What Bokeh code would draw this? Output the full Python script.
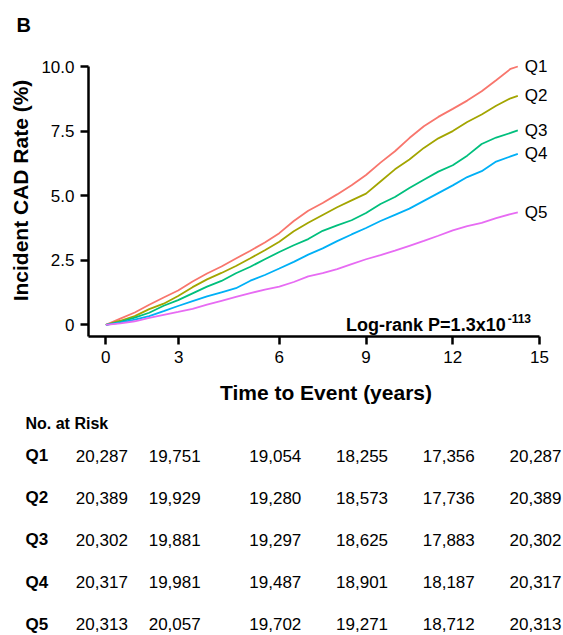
from bokeh.plotting import figure
from bokeh.models import Range1d, FixedTicker, Label, ColumnDataSource
from bokeh.layouts import column
from bokeh.embed import file_html
from bokeh.resources import INLINE
from bokeh.core.properties import value

# ---------------- data ----------------
time = [0, 0.5, 1, 1.5, 2, 2.5, 3, 3.5, 4, 4.5, 5, 5.5, 6, 6.5, 7, 7.5, 8, 8.5,
        9, 9.5, 10, 10.5, 11, 11.5, 12, 12.5, 13, 13.5, 14, 14.25]
q1 = [0, 0.24, 0.48, 0.78, 1.06, 1.33, 1.68, 1.99, 2.26, 2.57, 2.87, 3.19, 3.55, 4.02, 4.42,
      4.72, 5.05, 5.40, 5.80, 6.28, 6.72, 7.23, 7.69, 8.05, 8.36, 8.68, 9.04, 9.47, 9.91, 10.0]
q2 = [0, 0.16, 0.34, 0.61, 0.82, 1.12, 1.46, 1.76, 2.01, 2.28, 2.58, 2.89, 3.22, 3.62, 3.95,
      4.25, 4.55, 4.82, 5.08, 5.55, 6.02, 6.40, 6.85, 7.22, 7.50, 7.85, 8.14, 8.48, 8.77, 8.86]
q3 = [0, 0.12, 0.28, 0.47, 0.74, 0.96, 1.22, 1.48, 1.70, 2.00, 2.25, 2.54, 2.82, 3.08, 3.32,
      3.64, 3.85, 4.05, 4.33, 4.68, 4.95, 5.30, 5.62, 5.93, 6.18, 6.55, 7.00, 7.25, 7.43, 7.53]
q4 = [0, 0.09, 0.20, 0.34, 0.53, 0.73, 0.92, 1.10, 1.26, 1.42, 1.71, 1.93, 2.18, 2.44, 2.72,
      2.96, 3.24, 3.50, 3.75, 4.02, 4.26, 4.50, 4.80, 5.10, 5.40, 5.72, 5.95, 6.32, 6.52, 6.62]
q5 = [0, 0.06, 0.14, 0.27, 0.39, 0.50, 0.62, 0.78, 0.93, 1.08, 1.23, 1.36, 1.48, 1.66, 1.88,
      2.00, 2.16, 2.35, 2.54, 2.70, 2.87, 3.06, 3.25, 3.45, 3.66, 3.82, 3.95, 4.13, 4.29, 4.35]

groups = ["Q1", "Q2", "Q3", "Q4", "Q5"]
colors = ["#F8766D", "#A3A500", "#00BF7D", "#00B0F6", "#E76BF3"]

x_ticks = [0, 2.52, 6, 9, 12, 15]
x_tick_labels = ["0", "3", "6", "9", "12", "15"]
y_ticks = [0, 2.5, 5, 7.5, 10]
y_tick_labels = ["0", "2.5", "5.0", "7.5", "10.0"]

risk_q1 = [20287, 19751, 19054, 18255, 17356, 20287]
risk_q2 = [20389, 19929, 19280, 18573, 17736, 20389]
risk_q3 = [20302, 19881, 19297, 18625, 17883, 20302]
risk_q4 = [20317, 19981, 19487, 18901, 18187, 20317]
risk_q5 = [20313, 20057, 19702, 19271, 18712, 20313]

# ---------------- layout constants ----------------
FONT = "Liberation Sans"
W = 563
H_TOP, H_MAIN = 44, 366
H_TABLE = 635 - H_TOP - H_MAIN
AX_L, AX_R = 88, 539          # pixel span of the x axis (x from X0 to X_END)
AX_T, AX_B = 66, 336          # pixel span of the y axis (y from Y0 to Y_END)
X0, X_END = -0.6, 15
Y0, Y_END = -0.45, 10
ppx = (AX_R - AX_L) / (X_END - X0)
ppy = (AX_B - AX_T) / (Y_END - Y0)


def bare(fig):
    fig.frame_align = False
    fig.outline_line_color = None
    fig.background_fill_color = "white"
    fig.border_fill_color = "white"
    return fig


# full-width x range shared by the letter strip and the risk table
tx0 = X0 - AX_L / ppx
tx1 = X_END + (W - AX_R) / ppx

# ---------------- panel letter ----------------
top = bare(figure(width=W, height=H_TOP, x_range=Range1d(tx0, tx1), y_range=Range1d(H_TOP, 0),
                  output_backend="svg", toolbar_location=None, min_border=0,
                  x_axis_location=None, y_axis_location=None))
top.grid.visible = False
top.text(x=[tx0 + 16 / ppx], y=[24], text=["B"], text_align="left", text_baseline="middle",
         text_font=value(FONT), text_font_size="20px", text_font_style="bold", text_color="black")

# ---------------- main chart ----------------
p = bare(figure(width=W, height=H_MAIN,
                x_range=Range1d(X0, X_END + (W - AX_R) / ppx),
                y_range=Range1d(Y0, Y_END + (AX_T - H_TOP) / ppy),
                output_backend="svg", toolbar_location=None,
                min_border_left=AX_L, min_border_right=0, min_border_top=0,
                min_border_bottom=H_TOP + H_MAIN - AX_B))
p.xgrid.visible = False
p.ygrid.visible = False

p.xaxis.ticker = FixedTicker(ticks=x_ticks)
p.xaxis.major_label_overrides = {t: l for t, l in zip(x_ticks, x_tick_labels)}
p.yaxis.ticker = FixedTicker(ticks=y_ticks)
p.yaxis.major_label_overrides = {t: l for t, l in zip(y_ticks, y_tick_labels)}
p.xaxis.bounds = (X0, X_END)
p.yaxis.bounds = (Y0, Y_END)
p.xaxis.axis_label = "Time to Event (years)"
p.yaxis.axis_label = "Incident CAD Rate (%)"

for ax in (p.xaxis[0], p.yaxis[0]):
    ax.axis_line_width = 2.5
    ax.axis_line_color = "black"
    ax.major_tick_line_width = 2.5
    ax.major_tick_line_color = "black"
    ax.major_tick_in = 0
    ax.major_tick_out = 8
    ax.minor_tick_line_color = None
    ax.major_label_text_font = FONT
    ax.major_label_text_font_size = "17px"
    ax.major_label_text_color = "black"
    ax.major_label_standoff = 6
    ax.axis_label_text_font = FONT
    ax.axis_label_text_font_size = "21px"
    ax.axis_label_text_font_style = "bold"
    ax.axis_label_text_color = "black"
p.xaxis.axis_label_standoff = 15
p.yaxis.axis_label_standoff = 6

src = ColumnDataSource(dict(time=time, Q1=q1, Q2=q2, Q3=q3, Q4=q4, Q5=q5))
for g, c in zip(groups, colors):
    p.line(x="time", y=g, source=src, line_color=c, line_width=1.8)
    p.add_layout(Label(x=time[-1], y=src.data[g][-1], text=g, x_offset=7,
                       text_baseline="middle", text_align="left",
                       text_font=FONT, text_font_size="17px", text_color="black"))

# Log-rank annotation
LR_X = 13.83
p.add_layout(Label(x=LR_X, y=0, text="Log-rank P=1.3x10", text_align="right",
                   text_baseline="alphabetic", text_font=FONT, text_font_size="18px",
                   text_font_style="bold", text_color="black"))
p.add_layout(Label(x=LR_X, y=0, text="-113", x_offset=2, y_offset=6, text_align="left",
                   text_baseline="alphabetic", text_font=FONT, text_font_size="12px",
                   text_font_style="bold", text_color="black"))

# ---------------- risk table ----------------
ROW_SP = 42.2
FIRST_ROW = 45 - (H_TOP + H_MAIN - 410)
HEADER_ROW = 13 - (H_TOP + H_MAIN - 410)
t = bare(figure(width=W, height=H_TABLE, x_range=Range1d(tx0, tx1),
                y_range=Range1d((H_TABLE - FIRST_ROW) / ROW_SP, -FIRST_ROW / ROW_SP),
                output_backend="svg", toolbar_location=None, min_border=0,
                x_axis_location=None, y_axis_location=None))
t.grid.visible = False

risk_rows = [risk_q1, risk_q2, risk_q3, risk_q4, risk_q5]
cx, cy, ct = [], [], []
for i, row in enumerate(risk_rows):
    for j, v in enumerate(row):
        cx.append(x_ticks[j])
        cy.append(i)
        ct.append(f"{v:,}")
t.text(x="x", y="y", text="text", source=ColumnDataSource(dict(x=cx, y=cy, text=ct)),
       text_align="center", text_baseline="middle", text_font=value(FONT),
       text_font_size="17px", text_color="black", x_offset=-4)

LBL_X = tx0 + 25 / ppx
t.text(x=[LBL_X] * len(groups), y=list(range(len(groups))), text=groups,
       text_align="left", text_baseline="middle", text_font=value(FONT),
       text_font_size="17px", text_font_style="bold", text_color="black")
t.text(x=[LBL_X], y=[(HEADER_ROW - FIRST_ROW) / ROW_SP], text=["No. at Risk"],
       text_align="left", text_baseline="middle", text_font=value(FONT),
       text_font_size="16px", text_font_style="bold", text_color="black")

layout = column(top, p, t, spacing=0)
open("out.html", "w").write(file_html(layout, INLINE))
